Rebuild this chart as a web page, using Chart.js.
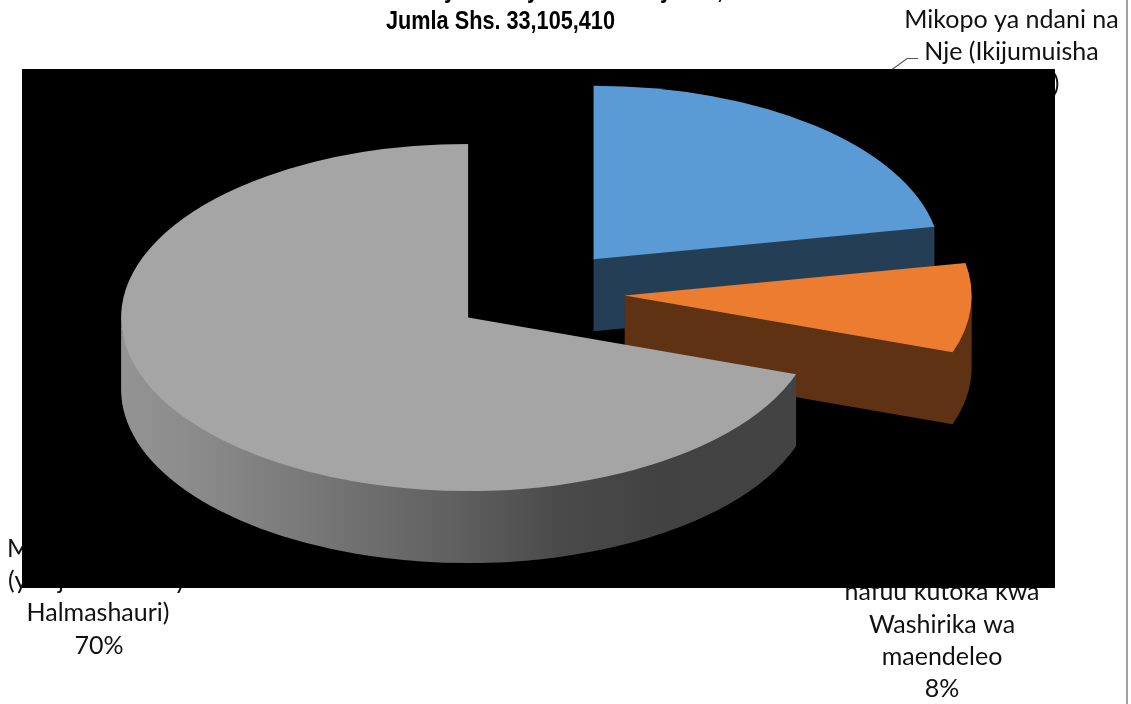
<!DOCTYPE html>
<html>
<head>
<meta charset="utf-8">
<title>Jumla Shs. 33,105,410</title>
<script src="https://cdn.jsdelivr.net/npm/chart.js@4/dist/chart.umd.min.js"></script>
<style>
    html, body { margin: 0; padding: 0; background: #fff; overflow: hidden; }
    canvas { display: block; }
</style>
</head>
<body>
<canvas id="pie" width="1131" height="704"></canvas>
<script>
// only the parts of the labels that can be read are kept
var categories = ['Mikopo ya ndani na Nje (Ikijumuisha', 'nafuu kutoka kwa Washirika wa maendeleo', 'Halmashauri)'];
var values     = [22, 8.3, 69.7];
var topColors  = ['#5B9BD5', '#EB7C30', '#A5A5A5'];
var wallColors = ['#243E55', '#5F3214', null];
var titleText  = 'Jumla Shs. 33,105,410';

var SQUASH  = 0.5;   // pie tilt
var DEPTH   = 72;    // height of the walls
var EXPLODE = 86.4;  // how far slices are pulled out
var RADIUS  = 347;
var LIFT    = 1.5;   // walls start a bit under the top face, no black seam

function pct(i) {
    return Math.round(values[i]) + '%';
}

function grayWall(ctx) {
    var g = ctx.createLinearGradient(122, 0, 796, 0);
    g.addColorStop(0, '#939393');
    g.addColorStop(0.12, '#8a8a8a');
    g.addColorStop(0.27, '#797979');
    g.addColorStop(0.5, '#5f5f5f');
    g.addColorStop(0.65, '#4a4a4a');
    g.addColorStop(0.8, '#424242');
    g.addColorStop(1, '#434343');
    return g;
}

function drawWalls(ctx, arc, i, topY) {
    var mid = (arc.startAngle + arc.endAngle) / 2;
    var ax  = arc.x + Math.cos(mid) * EXPLODE;
    var ay  = topY + Math.sin(mid) * EXPLODE * SQUASH;
    var r   = arc.outerRadius;
    var ry  = r * SQUASH;
    ctx.save();
    ctx.fillStyle = wallColors[i] || grayWall(ctx);
    ctx.beginPath();

    // cut face at the end of the slice, only when it looks at us
    if (Math.cos(arc.endAngle) > 0.001) {
        var ex = ax + Math.cos(arc.endAngle) * r;
        var ey = ay + Math.sin(arc.endAngle) * ry;
        ctx.moveTo(ax, ay - LIFT);
        ctx.lineTo(ex, ey - LIFT);
        ctx.lineTo(ex, ey + DEPTH);
        ctx.lineTo(ax, ay + DEPTH);
        ctx.closePath();
    }

    // outer rim, front half only. Same winding as the cut face so they join clean
    var a0 = Math.max(arc.startAngle, 0);
    var a1 = Math.min(arc.endAngle, Math.PI);
    if (a1 > a0) {
        ctx.moveTo(ax + Math.cos(a1) * r, ay + Math.sin(a1) * ry - LIFT);
        ctx.ellipse(ax, ay - LIFT, r, ry, 0, a1, a0, true);
        ctx.ellipse(ax, ay + DEPTH, r, ry, 0, a0, a1);
        ctx.closePath();
    }
    ctx.fill();
    ctx.restore();
}

var pie3d = {
    id: 'pie3d',
    beforeDatasetsDraw: function(chart) {
        var ctx  = chart.ctx;
        var arcs = chart.getDatasetMeta(0).data;
        arcs.forEach(function(arc, i) {
            var topY = arc.y - DEPTH / 2;
            var mid  = (arc.startAngle + arc.endAngle) / 2;
            drawWalls(ctx, arc, i, topY);
            ctx.save();
            ctx.translate(arc.x, topY);
            ctx.scale(1, SQUASH);
            ctx.translate(-arc.x, -arc.y);
            ctx.translate(Math.cos(mid) * EXPLODE, Math.sin(mid) * EXPLODE);
            arc.draw(ctx);
            ctx.restore();
        });
        return false;
    }
};

// no narrow font installed, so squeeze the bold one
function narrowText(ctx, text, x, y) {
    ctx.fillText(text, x, y, ctx.measureText(text).width * 0.867);
}

// texts go under the black panel, same as in the reference
var background = {
    id: 'background',
    beforeDraw: function(chart) {
        var ctx = chart.ctx;
        var a   = chart.chartArea;
        ctx.save();
        ctx.fillStyle = '#fff';
        ctx.fillRect(0, 0, chart.width, chart.height);

        ctx.fillStyle = '#000';
        ctx.textBaseline = 'alphabetic';
        ctx.textAlign = 'center';

        // title, upper line is cut off by the page
        ctx.font = 'bold 25px "Liberation Sans"';
        narrowText(ctx, titleText, 500.5, 29);
        narrowText(ctx, 'y', 450, -2);
        narrowText(ctx, 'y', 533, -2);
        narrowText(ctx, 'y', 666, -2);
        narrowText(ctx, ',', 720, -2);

        ctx.font = '25px Lato';
        ctx.fillStyle = '#111';
        ctx.fillText('Mikopo ya ndani na', 1011.5, 28);
        ctx.fillText('Nje (Ikijumuisha', 1011.5, 60);
        ctx.fillText(')', 1056, 92);

        ctx.fillText('nafuu kutoka kwa', 942, 600);
        ctx.fillText('Washirika wa', 942, 633);
        ctx.fillText('maendeleo', 942, 665);
        ctx.fillText(pct(1), 942, 697);

        ctx.fillText('Halmashauri)', 98, 621);
        ctx.fillText(pct(2), 99, 654);
        ctx.textAlign = 'left';
        ctx.fillText('M', 7, 557);
        ctx.fillText('(y', 8, 589);
        ctx.fillText('j', 58, 589);
        ctx.fillText('y', 174, 589);

        // leader line
        ctx.strokeStyle = '#595959';
        ctx.lineWidth = 1.2;
        ctx.beginPath();
        ctx.moveTo(890, 71);
        ctx.lineTo(907, 58.5);
        ctx.lineTo(918, 58.5);
        ctx.stroke();

        // right edge of the frame
        ctx.fillStyle = '#a0a0a0';
        ctx.fillRect(1126, 0, 2, chart.height);

        ctx.fillStyle = '#000';
        ctx.fillRect(a.left, a.top, a.width, a.height);
        ctx.restore();
    }
};

new Chart(document.getElementById('pie'), {
    type: 'pie',
    data: {
        labels: categories,
        datasets: [{
            data: values,
            backgroundColor: topColors,
            borderWidth: 0,
            offset: 0
        }]
    },
    options: {
        responsive: false,
        animation: false,
        radius: RADIUS,
        layout: { padding: { left: 22, top: 69, right: 76, bottom: 116 } },
        plugins: {
            legend: { display: false },
            title: { display: false },
            tooltip: { enabled: false }
        }
    },
    plugins: [background, pie3d]
});
</script>
</body>
</html>
